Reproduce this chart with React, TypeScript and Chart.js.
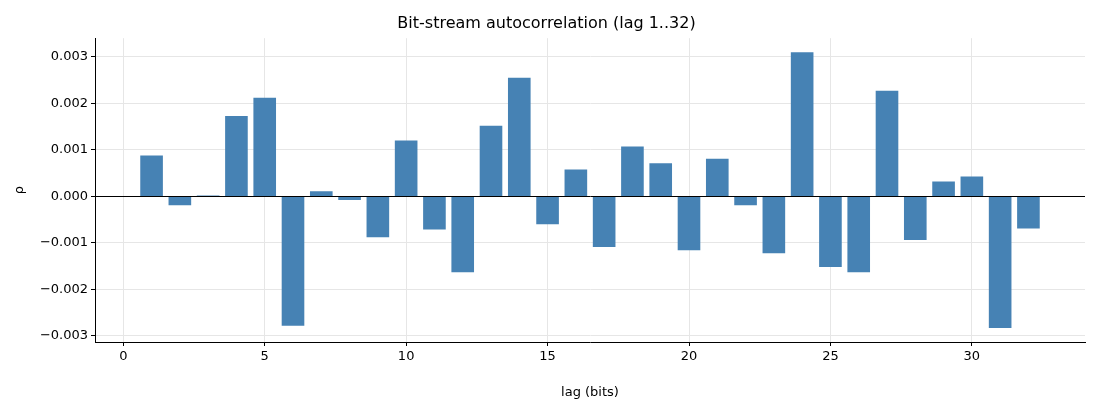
import React, { useEffect, useRef } from "react";
import { Chart, registerables } from "chart.js";
Chart.register(...registerables);

const lags = [1,2,3,4,5,6,7,8,9,10,11,12,13,14,15,16,17,18,19,20,21,22,23,24,25,26,27,28,29,30,31,32];
const rho = [0.00088,-0.00019,0.00002,0.00173,0.00212,-0.00278,0.00011,-0.00008,-0.00088,0.0012,-0.00071,-0.00163,0.00152,0.00255,-0.0006,0.00058,-0.00109,0.00107,0.00071,-0.00116,0.00081,-0.00019,-0.00122,0.0031,-0.00152,-0.00163,0.00227,-0.00094,0.00032,0.00043,-0.00283,-0.00069];
const xTicks = [0,5,10,15,20,25,30];

export default function App() {
  const ref = useRef<HTMLCanvasElement>(null);
  useEffect(() => {
    document.body.style.margin = "0";
    const font = { family: "DejaVu Sans", size: 13 };
    const chart = new Chart(ref.current!, {
      type: "bar",
      data: { datasets: [{ data: lags.map((x, i) => ({ x, y: rho[i] })), backgroundColor: "#4682b4", barPercentage: 0.8, categoryPercentage: 1 }] },
      options: {
        animation: false, responsive: false,
        layout: { padding: { right: 15, left: 8, top: 0 } },
        plugins: {
          legend: { display: false }, tooltip: { enabled: false },
          title: { display: true, text: "Bit-stream autocorrelation (lag 1..32)", color: "#000", font: { family: "DejaVu Sans", size: 16, weight: "normal" }, padding: { top: 14, bottom: 5 } },
        },
        scales: {
          x: {
            type: "linear", min: -1, max: 34, offset: false,
            afterBuildTicks: (s: any) => { s.ticks = xTicks.map(v => ({ value: v })); },
            afterFit: (s: any) => { s.height = 58; },
            ticks: { color: "#000", font, callback: (v: any) => String(v) },
            grid: { offset: false, color: "#e6e6e6", drawTicks: true, tickColor: "#000", tickLength: 4 },
            border: { color: "#000" },
            title: { display: true, text: "lag (bits)", color: "#000", font, padding: { top: 0, bottom: 0 } },
          },
          y: {
            min: -0.00313, max: 0.0034,
            afterBuildTicks: (s: any) => { s.ticks = [-0.003,-0.002,-0.001,0,0.001,0.002,0.003].map(v => ({ value: v })); },
            afterFit: (s: any) => { s.width = 87; },
            ticks: { color: "#000", font, callback: (v: any) => (v < 0 ? "\u2212" : "") + Math.abs(v).toFixed(3) },
            grid: { color: (c: any) => (c.tick && Math.abs(c.tick.value) < 1e-9 ? "#000" : "#e6e6e6"), tickColor: "#000", tickLength: 4 },
            border: { color: "#000" },
            title: { display: true, text: "ρ", color: "#000", font },
          },
        },
      } as any,
    });
    return () => chart.destroy();
  }, []);
  return <canvas ref={ref} width={1100} height={400} />;
}
